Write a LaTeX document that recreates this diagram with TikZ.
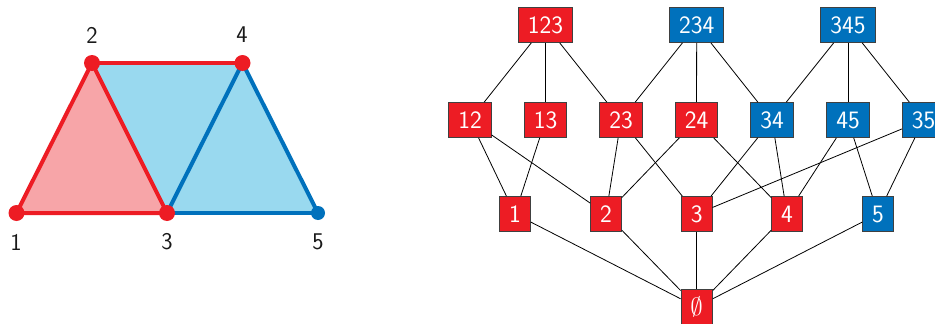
\documentclass[tikz,border=0pt]{standalone}
\usepackage{fontspec}
\definecolor{cred}{HTML}{ED1C24}
\definecolor{cblue}{HTML}{0071BC}
\definecolor{lred}{HTML}{F7A5A8}
\definecolor{lblue}{HTML}{99D9EF}
\tikzset{
  vdot/.style={circle,inner sep=0pt,minimum size=16pt},
  vlabel/.style={font=\sffamily\fontsize{24}{28}\selectfont,text=black!90},
  edgeR/.style={draw=cred,line width=4pt,line join=round},
  edgeB/.style={draw=cblue,line width=4pt,line join=round},
  facebox/.style={draw=black!75,line width=0.8pt,text=white,minimum height=35pt,
    inner xsep=9.5pt,font=\sffamily\fontsize{25}{30}\selectfont},
  rbox/.style={facebox,fill=cred},
  bbox/.style={facebox,fill=cblue},
  link/.style={draw=black,line width=0.8pt}
}
\begin{document}
\begin{tikzpicture}[x=1pt,y=-1pt]
\useasboundingbox (0,0) rectangle (935,324);
\clip (0,0) rectangle (935,324);
% left complex
\coordinate (v1) at (16.5,213);
\coordinate (v2) at (92,63);
\coordinate (v3) at (167,213);
\coordinate (v4) at (242.5,63);
\coordinate (v5) at (318,213);
\fill[lred] (v1) -- (v2) -- (v3) -- cycle;
\fill[lblue] (v2) -- (v4) -- (v3) -- cycle;
\fill[lblue] (v3) -- (v4) -- (v5) -- cycle;
\draw[edgeB] (v3) -- (v5);
\draw[edgeB] (v3) -- (v4) -- (v5);
\draw[edgeR] (v1) -- (v2) -- (v3) -- cycle;
\draw[edgeR] (v2) -- (v4);
\node[vdot,fill=cred] (d1) at (v1) {};
\node[vdot,fill=cred] (d2) at (v2) {};
\node[vdot,fill=cred] (d3) at (v3) {};
\node[vdot,fill=cred] (d4) at (v4) {};
\node[vdot,fill=cblue,minimum size=14pt] (d5) at (v5) {};
\node[vlabel] (l1) at (16,242) {1};
\node[vlabel] (l2) at (92,35) {2};
\node[vlabel] (l3) at (167,242) {3};
\node[vlabel] (l4) at (242,35) {4};
\node[vlabel] (l5) at (318,242) {5};
% face lattice
\node[rbox] (f123) at (545.5,25) {123};
\node[bbox] (f234) at (696.7,25) {234};
\node[bbox] (f345) at (848,25) {345};
\node[rbox] (f12) at (470,120) {12};
\node[rbox] (f13) at (545.5,120) {13};
\node[rbox] (f23) at (621,120) {23};
\node[rbox] (f24) at (696.5,120) {24};
\node[bbox] (f34) at (772,120) {34};
\node[bbox] (f45) at (848,120) {45};
\node[bbox] (f35) at (923.5,120) {35};
\node[rbox] (f1) at (515,214) {1};
\node[rbox] (f2) at (606,214) {2};
\node[rbox] (f3) at (696.7,214) {3};
\node[rbox] (f4) at (787,214) {4};
\node[bbox] (f5) at (878,214) {5};
\node[rbox] (f0) at (696.7,307) {$\emptyset$};
\foreach \a/\b in {f123/f12,f123/f13,f123/f23,f234/f23,f234/f24,f234/f34,
  f345/f34,f345/f45,f345/f35,f12/f1,f12/f2,f13/f1,f23/f2,f23/f3,f24/f2,f24/f4,
  f34/f3,f34/f4,f45/f4,f45/f5,f35/f3,f35/f5,f1/f0,f2/f0,f3/f0,f4/f0,f5/f0}
  \draw[link] (\a) -- (\b);
\end{tikzpicture}
\end{document}
